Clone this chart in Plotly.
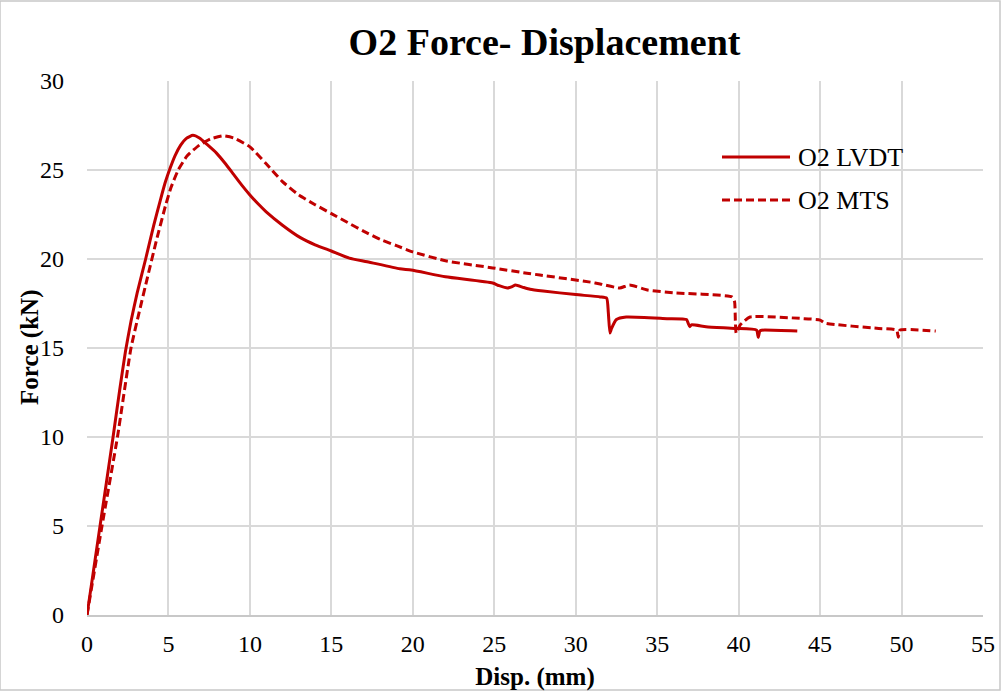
import plotly.graph_objects as go

# O2 LVDT
lvdt_x = [0, 0.8, 1.6, 2.0, 2.36, 2.7, 3.08, 3.6, 4.1, 4.5, 4.8, 5.1, 5.4, 5.75, 6.1, 6.5, 6.9, 7.35,
          7.95, 8.5, 9.0, 9.5, 10.0, 10.5, 11.0, 12.0, 13.1, 14.0, 15.0, 16.1, 17.2, 19.2, 19.9, 22.0,
          24.9, 25.3, 25.8, 26.1, 26.3, 26.8, 27.2, 28.0, 30.0, 31.5, 31.9, 32.0, 32.1, 32.2, 32.5, 33.1,
          35.6, 36.8, 36.9, 37.0, 37.1, 38.0, 39.75, 41.1, 41.2, 41.3, 41.4, 43.6]
lvdt_y = [0, 5.0, 10.0, 12.6, 14.8, 16.5, 18.1, 20.0, 21.9, 23.3, 24.3, 25.1, 25.8, 26.4, 26.78, 26.95,
          26.8, 26.45, 25.95, 25.35, 24.75, 24.15, 23.6, 23.1, 22.65, 21.9, 21.2, 20.8, 20.45, 20.05,
          19.85, 19.45, 19.38, 19.0, 18.65, 18.5, 18.37, 18.45, 18.54, 18.4, 18.3, 18.2, 18.0, 17.87, 17.8,
          17.0, 15.84, 16.1, 16.6, 16.74, 16.65, 16.6, 16.4, 16.2, 16.3, 16.2, 16.1, 16.0, 15.6, 15.95,
          16.0, 15.95]

# O2 MTS
mts_x = [0, 0.92, 1.87, 2.7, 3.2, 3.72, 4.25, 4.82, 5.15, 5.6, 6.15, 6.9, 7.6, 8.35, 9.0, 10.0,
         11.0, 12.0, 13.0, 14.0, 15.0, 16.0, 17.0, 18.0, 19.0, 20.0, 22.0, 24.9, 27.0, 27.8, 30.9, 31.5,
         32.7, 33.3, 34.4, 36.0, 39.6, 39.75, 39.8, 39.85, 40.1, 40.7, 44.0, 45.0, 45.3, 48.6, 49.7,
         49.8, 49.9, 52.1]
mts_y = [0, 5.0, 10.0, 15.0, 17.0, 19.0, 21.0, 23.0, 24.0, 25.0, 25.8, 26.4, 26.75, 26.92, 26.8,
         26.3, 25.35, 24.35, 23.6, 23.05, 22.55, 22.05, 21.55, 21.1, 20.75, 20.4, 19.9, 19.5, 19.2, 19.1,
         18.7, 18.6, 18.37, 18.54, 18.26, 18.1, 17.87, 17.6, 16.5, 15.84, 16.3, 16.74, 16.65, 16.57,
         16.4, 16.1, 16.0, 15.6, 16.0, 15.95]

series_names = ["O2 LVDT", "O2 MTS"]

red = "#c00000"
font = "Liberation Serif"

fig = go.Figure()
fig.add_trace(go.Scatter(x=lvdt_x, y=lvdt_y, mode="lines", name=series_names[0],
                         line=dict(color=red, width=3, shape="spline", smoothing=0.5)))
fig.add_trace(go.Scatter(x=mts_x, y=mts_y, mode="lines", name=series_names[1],
                         line=dict(color=red, width=3, dash="8px,4px", shape="spline", smoothing=0.5)))

fig.update_layout(
    width=1001, height=691,
    margin=dict(l=87, r=18, t=81, b=76),
    paper_bgcolor="white", plot_bgcolor="white",
    font=dict(family=font, size=24, color="black"),
    title=dict(text="<b>O2 Force- Displacement</b>", x=0.544, xanchor="center",
               y=0.94, yanchor="middle", font=dict(family=font, size=38, color="black")),
    showlegend=False,
    xaxis=dict(range=[0, 55], dtick=5, tick0=0, showgrid=True, gridcolor="#d9d9d9", gridwidth=1.5,
               zeroline=False, showline=True, linecolor="#c8c8c8", linewidth=1.5, automargin=False,
               ticks="", tickfont=dict(family=font, size=24), ticklabelstandoff=6,
               title=dict(text="<b>Disp. (mm)</b>", font=dict(family=font, size=25), standoff=12)),
    yaxis=dict(range=[0, 30], dtick=5, tick0=0, showgrid=True, gridcolor="#d9d9d9", gridwidth=1.5,
               zeroline=False, showline=False, ticks="", tickfont=dict(family=font, size=24),
               ticklabelstandoff=22, automargin=False),
)

# y-axis title
fig.add_annotation(text="<b>Force (kN)</b>", xref="paper", yref="paper", x=(30 - 87) / 896, y=0.5,
                   xanchor="center", yanchor="middle", textangle=-90, showarrow=False,
                   font=dict(family=font, size=25, color="black"))

# legend (drawn in paper coordinates)
leg_y = [(615 - 157) / 534, (615 - 200) / 534]
leg_dash = ["solid", "8px,4px"]
for name, yy, dsh in zip(series_names, leg_y, leg_dash):
    fig.add_shape(type="line", xref="paper", yref="paper", x0=(722 - 87) / 896, x1=(790 - 87) / 896,
                  y0=yy, y1=yy, line=dict(color=red, width=3, dash=dsh))
    fig.add_annotation(text=name, xref="paper", yref="paper", x=(796 - 87) / 896, y=yy,
                       xanchor="left", yanchor="middle", showarrow=False,
                       font=dict(family=font, size=26, color="black"))

# outer chart border
fig.add_shape(type="rect", xref="paper", yref="paper",
              x0=-87/896, x1=1+17/896, y0=-75/534, y1=1+80/534,
              line=dict(color="#c8c8c8", width=1.5), layer="below")

fig.write_html("out.html")
